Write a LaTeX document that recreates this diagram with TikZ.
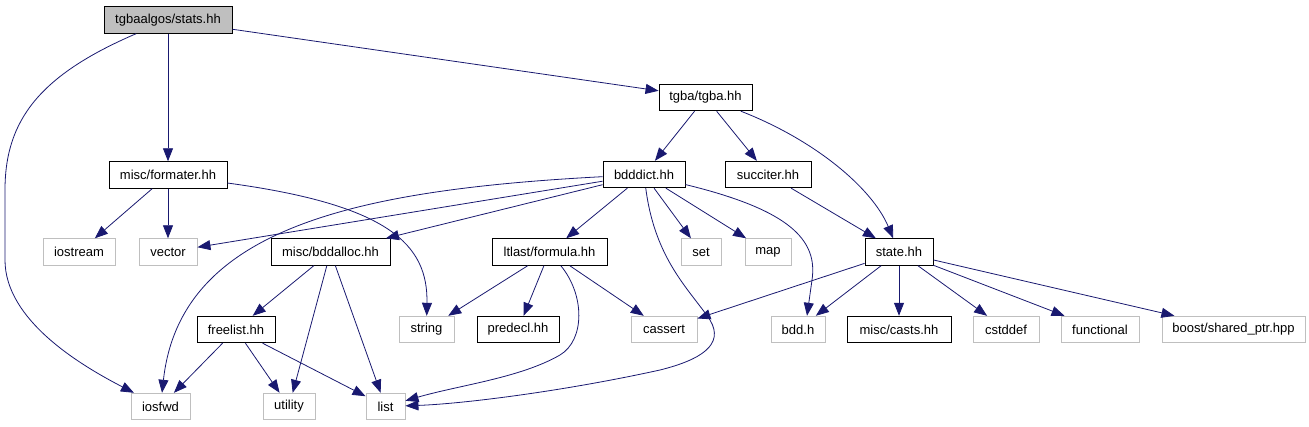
\documentclass[tikz,border=0pt]{standalone}
\usepackage{fontspec}
\setmainfont{Liberation Sans}
\usetikzlibrary{arrows.meta}
\definecolor{edgeblue}{HTML}{191970}
\definecolor{nodoc}{HTML}{BFBFBF}
\begin{document}
\begin{tikzpicture}[x=1pt,y=-1pt,
  box/.style={draw=black,line width=0.9pt,minimum height=26.5pt,inner sep=0pt,font=\fontsize{13}{15}\selectfont},
  ext/.style={box,draw=nodoc},
  cur/.style={box,fill=nodoc},
  dep/.style={draw=edgeblue,line width=0.8pt,-{Triangle[length=13pt,width=10pt]},fill=none}]
\useasboundingbox (0,0) rectangle (1309,427);
% nodes
\node[cur,minimum width=128pt] (stats) at (168,20) {tgbaalgos/stats.hh};
\node[box,minimum width=93pt] (tgba) at (705.5,97.5) {tgba/tgba.hh};
\node[box,minimum width=82pt] (bdddict) at (644,174.5) {bdddict.hh};
\node[box,minimum width=86pt] (succiter) at (768,174.5) {succiter.hh};
\node[box,minimum width=118pt] (formater) at (168,175) {misc/formater.hh};
\node[ext,minimum width=72pt] (iostream) at (79,252) {iostream};
\node[ext,minimum width=58pt] (vector) at (168,252) {vector};
\node[box,minimum width=119pt] (bddalloc) at (330.5,252) {misc/bddalloc.hh};
\node[box,minimum width=115pt] (formula) at (549.5,252) {ltlast/formula.hh};
\node[ext,minimum width=40pt] (set) at (701,252) {set};
\node[ext,minimum width=46pt] (map) at (768,252) {map};
\node[box,minimum width=68pt] (state) at (899,252) {state.hh};
\node[box,minimum width=78pt] (freelist) at (236,329.5) {freelist.hh};
\node[ext,minimum width=55pt] (string) at (426.5,329.5) {string};
\node[box,minimum width=82pt] (predecl) at (518,329.5) {predecl.hh};
\node[ext,minimum width=66pt] (cassert) at (664,329.5) {cassert};
\node[ext,minimum width=54pt] (bddh) at (798,329.5) {bdd.h};
\node[box,minimum width=104pt] (casts) at (899,329.5) {misc/casts.hh};
\node[ext,minimum width=66pt] (cstddef) at (1006,329.5) {cstddef};
\node[ext,minimum width=78pt] (functional) at (1100,329.5) {functional};
\node[ext,minimum width=143pt] (shared) at (1233.5,329.5) {boost/shared\_ptr.hpp};
\node[ext,minimum width=59pt] (iosfwd) at (160.5,406.5) {iosfwd};
\node[ext,minimum width=52pt] (utility) at (289,406.5) {utility};
\node[ext,minimum width=39pt] (list) at (385.5,406.5) {list};
% edges
\draw[dep] (stats) -- (tgba);
\draw[dep] (stats) -- (formater);
\draw[dep] (stats) .. controls (40,75) and (5,120) .. (5,190) -- (5,260) .. controls (5,320) and (80,365) .. (iosfwd);
\draw[dep] (tgba) -- (bdddict);
\draw[dep] (tgba) -- (succiter);
\draw[dep] (tgba) .. controls (815,140) and (872,188) .. (state);
\draw[dep] (bdddict) -- (vector);
\draw[dep] (bdddict) .. controls (350,190) and (180,230) .. (iosfwd);
\draw[dep] (bdddict) -- (bddalloc);
\draw[dep] (bdddict) -- (formula);
\draw[dep] (bdddict) .. controls (655,260) and (690,290) .. (710,320) .. controls (725,345) and (700,360) .. (660,370) .. controls (560,392) and (460,404) .. (list);
\draw[dep] (bdddict) -- (set);
\draw[dep] (bdddict) -- (map);
\draw[dep] (bdddict) .. controls (790,210) and (818,240) .. (812,280) -- ([xshift=9pt]bddh.north);
\draw[dep] (succiter) -- (state);
\draw[dep] (formater) -- (iostream);
\draw[dep] (formater) -- (vector);
\draw[dep] (formater) .. controls (390,205) and (428,245) .. (string);
\draw[dep] (bddalloc) -- (freelist);
\draw[dep] (bddalloc) -- (utility);
\draw[dep] (bddalloc) -- (list);
\draw[dep] (formula) -- (string);
\draw[dep] (formula) -- (predecl);
\draw[dep] (formula) .. controls (585,295) and (585,340) .. (560,355) .. controls (520,378) and (460,385) .. (list);
\draw[dep] (formula) -- (cassert);
\draw[dep] (freelist) -- (iosfwd);
\draw[dep] (freelist) -- (utility);
\draw[dep] (freelist) -- (list);
\draw[dep] (state) -- (cassert);
\draw[dep] (state) -- (bddh);
\draw[dep] (state) -- (casts);
\draw[dep] (state) -- (cstddef);
\draw[dep] (state) -- (functional);
\draw[dep] (state) -- (shared);
\end{tikzpicture}
\end{document}
